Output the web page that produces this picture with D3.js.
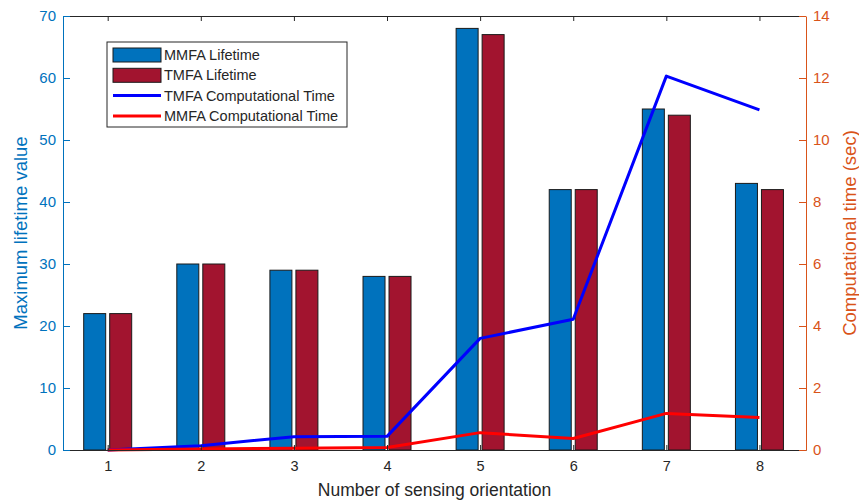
<!DOCTYPE html>
<html lang="en">
<head>
    <meta charset="UTF-8">
    <title>Lifetime and Computational Time</title>
    <style>
        body { margin: 0; background: #fff; font-family: "Liberation Sans", Arial, sans-serif; }
    </style>
</head>
<body>
    <svg width="859" height="504"></svg>
    <script src="https://d3js.org/d3.v7.min.js"></script>
    <script>
        const orientations = [1, 2, 3, 4, 5, 6, 7, 8];
        const mmfaLifetime = [22, 30, 29, 28, 68, 42, 55, 43];
        const tmfaLifetime = [22, 30, 29, 28, 67, 42, 54, 42];
        const tmfaTime = [0, 0.14, 0.43, 0.44, 3.6, 4.22, 12.06, 10.97];
        const mmfaTime = [0, 0.03, 0.06, 0.08, 0.56, 0.37, 1.18, 1.05];
        const leftTicks = [0, 10, 20, 30, 40, 50, 60, 70];
        const rightTicks = [0, 2, 4, 6, 8, 10, 12, 14];

        const plotL = 63, plotR = 806, plotT = 16, plotB = 450;
        const blue = "#0072BD", orange = "#D95319", dark = "#262626";

        const svg = d3.select("svg");

        const x = d3.scaleLinear().domain([0.52, 8.5]).range([plotL, plotR]);
        const yL = d3.scaleLinear().domain([0, 70]).range([plotB, plotT]);
        const yR = d3.scaleLinear().domain([0, 14]).range([plotB, plotT]);

        const barW = 22, offset = 13;

        // bars
        const bars = [
            { name: "MMFA Lifetime", values: mmfaLifetime, color: blue, dx: -offset },
            { name: "TMFA Lifetime", values: tmfaLifetime, color: "#A2142F", dx: offset }
        ];
        bars.forEach(s => {
            svg.append("g").selectAll("rect")
                .data(orientations)
                .join("rect")
                .attr("x", d => x(d) + s.dx - barW / 2)
                .attr("y", (d, i) => yL(s.values[i]))
                .attr("width", barW)
                .attr("height", (d, i) => plotB - yL(s.values[i]))
                .attr("fill", s.color)
                .attr("stroke", "#1a1a1a")
                .attr("stroke-width", 1);
        });

        // lines
        const lines = [
            { name: "TMFA Computational Time", values: tmfaTime, color: "#0000FF" },
            { name: "MMFA Computational Time", values: mmfaTime, color: "#FF0000" }
        ];
        const line = d3.line().x(d => x(d[0])).y(d => yR(d[1]));
        lines.forEach(s => {
            svg.append("path")
                .datum(orientations.map((d, i) => [d, s.values[i]]))
                .attr("d", line)
                .attr("fill", "none")
                .attr("stroke", s.color)
                .attr("stroke-width", 3)
                .attr("stroke-linejoin", "round");
        });

        // top box line
        svg.append("line")
            .attr("x1", plotL).attr("x2", plotR)
            .attr("y1", plotT + 0.5).attr("y2", plotT + 0.5)
            .attr("stroke", dark).attr("stroke-width", 1);
        svg.append("g")
            .attr("transform", `translate(0,${plotT})`)
            .call(d3.axisBottom(x).tickValues(orientations).tickSize(5).tickFormat(""))
            .call(g => g.select(".domain").remove())
            .call(g => g.selectAll("line").attr("stroke", dark));

        // x axis
        svg.append("g")
            .attr("transform", `translate(0,${plotB})`)
            .call(d3.axisTop(x).tickValues(orientations).tickSize(5).tickFormat(""))
            .call(g => g.select(".domain").remove())
            .call(g => g.selectAll("line").attr("stroke", dark));
        svg.append("g")
            .attr("transform", `translate(0,${plotB})`)
            .call(d3.axisBottom(x).tickValues(orientations).tickSize(0).tickPadding(11).tickSizeOuter(0))
            .call(g => g.select(".domain").attr("stroke", dark))
            .call(g => g.selectAll("text").attr("fill", dark).style("font-size", "14.5px"));

        // left axis
        svg.append("g")
            .attr("transform", `translate(${plotL},0)`)
            .call(d3.axisRight(yL).tickValues(leftTicks).tickSize(7).tickSizeOuter(0).tickFormat(""))
            .call(g => g.select(".domain").attr("stroke", blue))
            .call(g => g.selectAll("line").attr("stroke", blue));
        svg.append("g")
            .attr("transform", `translate(${plotL},0)`)
            .call(d3.axisLeft(yL).tickValues(leftTicks).tickSize(0).tickPadding(7))
            .call(g => g.select(".domain").remove())
            .call(g => g.selectAll("text").attr("fill", blue).style("font-size", "15px"));

        // right axis
        svg.append("g")
            .attr("transform", `translate(${plotR},0)`)
            .call(d3.axisLeft(yR).tickValues(rightTicks).tickSize(7).tickSizeOuter(0).tickFormat(""))
            .call(g => g.select(".domain").attr("stroke", orange))
            .call(g => g.selectAll("line").attr("stroke", orange));
        svg.append("g")
            .attr("transform", `translate(${plotR},0)`)
            .call(d3.axisRight(yR).tickValues(rightTicks).tickSize(0).tickPadding(7))
            .call(g => g.select(".domain").remove())
            .call(g => g.selectAll("text").attr("fill", orange).style("font-size", "15px"));

        // axis titles
        svg.append("text")
            .attr("transform", `translate(27,${(plotT + plotB) / 2}) rotate(-90)`)
            .attr("text-anchor", "middle")
            .attr("fill", blue)
            .style("font-size", "18.5px")
            .text("Maximum lifetime value");
        svg.append("text")
            .attr("transform", `translate(856,${(plotT + plotB) / 2}) rotate(-90)`)
            .attr("text-anchor", "middle")
            .attr("fill", orange)
            .style("font-size", "18.5px")
            .text("Computational time (sec)");
        svg.append("text")
            .attr("x", (plotL + plotR) / 2)
            .attr("y", 496)
            .attr("text-anchor", "middle")
            .attr("fill", dark)
            .style("font-size", "17.5px")
            .text("Number of sensing orientation");

        // legend
        const lg = svg.append("g").attr("transform", "translate(107,42)");
        lg.append("rect")
            .attr("width", 240).attr("height", 85)
            .attr("fill", "#fff").attr("stroke", dark).attr("stroke-width", 1);
        const items = bars.map(b => ({ name: b.name, color: b.color, type: "bar" }))
            .concat(lines.map(l => ({ name: l.name, color: l.color, type: "line" })));
        items.forEach((it, i) => {
            const cy = 13 + i * 20.3;
            if (it.type === "bar") {
                lg.append("rect")
                    .attr("x", 6).attr("y", cy - 7)
                    .attr("width", 48).attr("height", 14)
                    .attr("fill", it.color).attr("stroke", "#1a1a1a");
            } else {
                lg.append("line")
                    .attr("x1", 6).attr("x2", 54)
                    .attr("y1", cy).attr("y2", cy)
                    .attr("stroke", it.color).attr("stroke-width", 3);
            }
            lg.append("text")
                .attr("x", 57).attr("y", cy + 5)
                .attr("fill", dark)
                .style("font-size", "14.5px")
                .text(it.name);
        });
    </script>
</body>
</html>
